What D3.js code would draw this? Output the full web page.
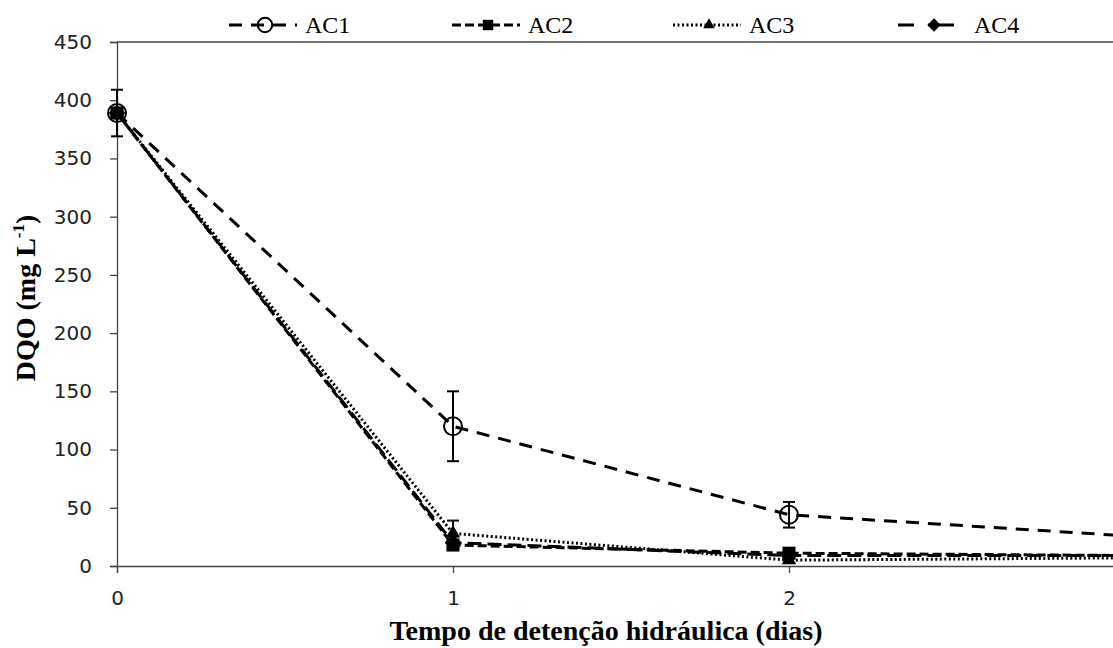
<!DOCTYPE html>
<html>
<head>
<meta charset="utf-8">
<script src="https://cdn.jsdelivr.net/npm/d3@7"></script>
<style>
body { margin: 0; background: #fff; }
.tick text { font-family: "DejaVu Sans", sans-serif; font-size: 20px; fill: #222; }
.axis path, .axis line { stroke: #444; stroke-width: 1.3px; }
.title { font-family: "Liberation Serif", serif; font-weight: bold; font-size: 28px; }
.leg { font-family: "Liberation Serif", serif; font-size: 24px; }
</style>
</head>
<body>
<svg width="1113" height="648"></svg>
<script>
var days = [0, 1, 2, 3];
var xTicks = [0, 1, 2];
var yTicks = [0, 50, 100, 150, 200, 250, 300, 350, 400, 450];
var names = ["AC1", "AC2", "AC3", "AC4"];
var ac1 = [389, 120, 44, 26],
    ac2 = [389, 18, 11, 9],
    ac3 = [389, 28, 5, 7],
    ac4 = [389, 20, 9, 9];
var ac1Err = [20, 30, 11, null],
    ac3Err = [null, 11, null, null];

var svg = d3.select("svg");
var x = d3.scaleLinear().domain([0, 3]).range([117, 1125]),
    y = d3.scaleLinear().domain([0, 450]).range([566, 42]);

var styles = {
  AC1: {dash: "13,9", marker: "circle"},
  AC2: {dash: "9,4", marker: "square"},
  AC3: {dash: "2,2.5", marker: "triangle"},
  AC4: {dash: "14,6", marker: "diamond"}
};
var series = [
  {name: "AC1", values: ac1, err: ac1Err},
  {name: "AC2", values: ac2, err: null},
  {name: "AC3", values: ac3, err: ac3Err},
  {name: "AC4", values: ac4, err: null}
];

// axes
svg.append("g").attr("class", "axis")
    .attr("transform", "translate(0,566)")
    .call(d3.axisBottom(x).tickValues(xTicks).tickSize(7).tickPadding(18).tickFormat(d3.format("d")));
svg.append("g").attr("class", "axis")
    .attr("transform", "translate(117,0)")
    .call(d3.axisLeft(y).tickValues(yTicks).tickSize(7).tickPadding(18));
svg.append("line")
    .attr("x1", 117).attr("x2", 1113).attr("y1", y(450)).attr("y2", y(450))
    .attr("stroke", "#444").attr("stroke-width", 1.3);

// titles
svg.append("text").attr("class", "title")
    .attr("x", 606).attr("y", 640).attr("text-anchor", "middle")
    .text("Tempo de detenção hidráulica (dias)");
var yt = svg.append("text").attr("class", "title")
    .attr("transform", "translate(35,298) rotate(-90)")
    .attr("text-anchor", "middle");
yt.append("tspan").text("DQO (mg L");
yt.append("tspan").attr("font-size", "17px").attr("dy", -11).text("-1");
yt.append("tspan").attr("dy", 11).text(")");

function marker(g, type, cx, cy, s) {
  var sym, rot = 0;
  if (type == "circle") {
    g.append("circle").attr("cx", cx).attr("cy", cy).attr("r", 9 * s)
      .attr("fill", "none").attr("stroke", "#000").attr("stroke-width", 2);
    return;
  }
  if (type == "square") sym = d3.symbol().type(d3.symbolSquare).size(170 * s * s);
  if (type == "triangle") sym = d3.symbol().type(d3.symbolTriangle).size(90 * s * s);
  if (type == "diamond") { sym = d3.symbol().type(d3.symbolSquare).size(140 * s * s); rot = 45; }
  g.append("path").attr("d", sym())
    .attr("transform", "translate(" + cx + "," + cy + ") rotate(" + rot + ")").attr("fill", "#000");
}

var line = d3.line().x(function(d, i) { return x(days[i]); }).y(function(d) { return y(d); });

// error bars
series.forEach(function(s) {
  if (!s.err) return;
  s.values.forEach(function(v, i) {
    var e = s.err[i];
    if (e == null) return;
    var g = svg.append("g").attr("stroke", "#000").attr("stroke-width", 2);
    g.append("line").attr("x1", x(days[i])).attr("x2", x(days[i])).attr("y1", y(v - e)).attr("y2", y(v + e));
    [v - e, v + e].forEach(function(t) {
      g.append("line").attr("x1", x(days[i]) - 6).attr("x2", x(days[i]) + 6).attr("y1", y(t)).attr("y2", y(t));
    });
  });
});

// lines
series.forEach(function(s) {
  svg.append("path")
    .attr("d", line(s.values))
    .attr("fill", "none").attr("stroke", "#000").attr("stroke-width", 3)
    .attr("stroke-dasharray", styles[s.name].dash);
});

// markers
series.forEach(function(s) {
  var g = svg.append("g");
  s.values.forEach(function(v, i) {
    marker(g, styles[s.name].marker, x(days[i]), y(v), 1);
  });
});

// legend
var legX = [229, 452, 673, 898];
var legY = 25;
series.forEach(function(s, i) {
  var g = svg.append("g");
  var x0 = legX[i];
  var ln = g.append("line").attr("x1", x0).attr("x2", x0 + 68).attr("y1", legY).attr("y2", legY)
    .attr("stroke", "#000").attr("stroke-width", 3)
    .attr("stroke-dasharray", styles[s.name].dash);
  if (i == 3) ln.attr("x2", x0 + 56).attr("stroke-dasharray", "16,14,28");
  marker(g, styles[s.name].marker, x0 + 36, legY, 0.8);
  g.append("text").attr("class", "leg").attr("x", x0 + 76).attr("y", legY + 8).text(s.name);
});
</script>
</body>
</html>
